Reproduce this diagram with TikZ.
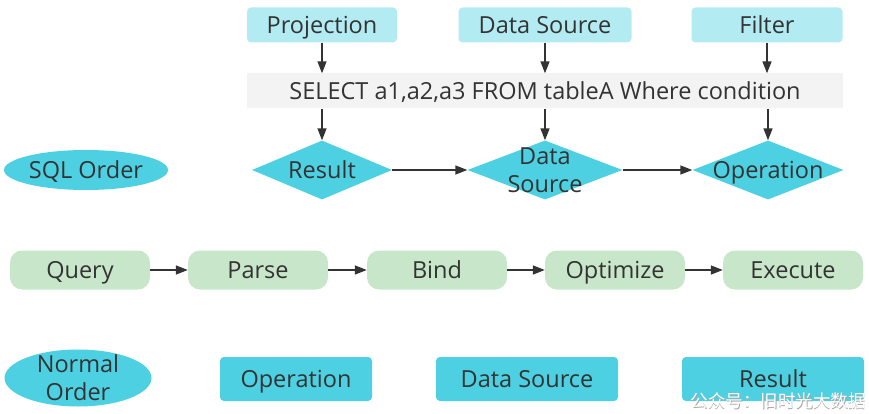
\documentclass[tikz,border=0pt]{standalone}
\usepackage{fontspec}
\setmainfont{Open Sans}
\newfontfamily\cjkfont{Noto Sans CJK SC}
\usetikzlibrary{shapes.geometric,arrows.meta}
\definecolor{txt}{HTML}{333333}
\definecolor{lcyan}{HTML}{B2EBF2}
\definecolor{cyanb}{HTML}{4DD0E1}
\definecolor{greenb}{HTML}{C8E6C9}
\definecolor{selfill}{HTML}{F3F3F3}
\begin{document}
\begin{tikzpicture}[x=1pt,y=-1pt,
  every node/.style={text=txt,font=\fontsize{23.5}{28}\selectfont,align=center,text height=22pt,text depth=5pt},
  twoline/.style={text height=50pt,text depth=5pt},
  topbox/.style={fill=lcyan,rounded corners=4pt,minimum height=35pt,inner sep=0pt},
  selbox/.style={fill=selfill,minimum width=596pt,minimum height=35pt,inner sep=0pt},
  dia/.style={diamond,fill=cyanb,inner sep=0pt,minimum height=59pt},
  ell/.style={ellipse,fill=cyanb,inner sep=0pt},
  greenbox/.style={fill=greenb,rounded corners=12pt,minimum width=140pt,minimum height=39pt,inner sep=0pt},
  botbox/.style={fill=cyanb,rounded corners=4pt,minimum height=44pt,inner sep=0pt},
  arr/.style={draw=txt,line width=1.5pt,-{Triangle[length=12pt,width=9pt]}}
]
\useasboundingbox (0,0) rectangle (869,414);
% top row
\node[topbox,minimum width=150pt] (proj) at (322,25) {Projection};
\node[topbox,minimum width=173pt] (dsrc) at (545,25) {Data Source};
\node[topbox,minimum width=151pt] (filt) at (767,25) {Filter};
\node[selbox] (sel) at (545,91) {SELECT a1,a2,a3 FROM tableA Where condition};
% diamonds
\node[dia,minimum width=140pt,label={center:Result}] (res) at (322,170) {};
\node[dia,minimum width=155pt,label={[twoline]center:Data\\Source}] (dsd) at (545,170) {};
\node[dia,minimum width=151pt,label={center:Operation}] (opd) at (768,170) {};
\node[ell,minimum width=164pt,minimum height=40pt] (sqlo) at (86,170) {SQL Order};
% arrows top
\draw[arr] (proj.south) -- (proj.south |- sel.north);
\draw[arr] (dsrc.south) -- (dsrc.south |- sel.north);
\draw[arr] (filt.south) -- (filt.south |- sel.north);
\draw[arr] (sel.south -| res.north) -- (res.north);
\draw[arr] (sel.south -| dsd.north) -- (dsd.north);
\draw[arr] (sel.south -| opd.north) -- (opd.north);
\draw[arr] (res.east) -- (dsd.west);
\draw[arr] (dsd.east) -- (opd.west);
% middle row
\node[greenbox] (query) at (80,270) {Query};
\node[greenbox] (parse) at (258,270) {Parse};
\node[greenbox] (bind) at (437,270) {Bind};
\node[greenbox] (optim) at (615,270) {Optimize};
\node[greenbox] (exec) at (793,270) {Execute};
\draw[arr] (query.east) -- (parse.west);
\draw[arr] (parse.east) -- (bind.west);
\draw[arr] (bind.east) -- (optim.west);
\draw[arr] (optim.east) -- (exec.west);
% bottom row
\node[ell,minimum width=147pt,minimum height=57pt,label={[twoline]center:Normal\\Order}] (normo) at (78,378) {};
\node[botbox,minimum width=152pt] (bop) at (296,379) {Operation};
\node[botbox,minimum width=182pt] (bds) at (527,379) {Data Source};
\node[botbox,minimum width=182pt] (bres) at (773,379) {Result};
% watermark
\node[text=gray!70,font=\cjkfont\fontsize{17.5}{19}\selectfont,text height=,text depth=] (wms) at (778.8,401.8) {公众号：旧时光大数据};
\node[text=white,font=\cjkfont\fontsize{17.5}{19}\selectfont,text height=,text depth=] (wm) at (778,401) {公众号：旧时光大数据};
\end{tikzpicture}
\end{document}
